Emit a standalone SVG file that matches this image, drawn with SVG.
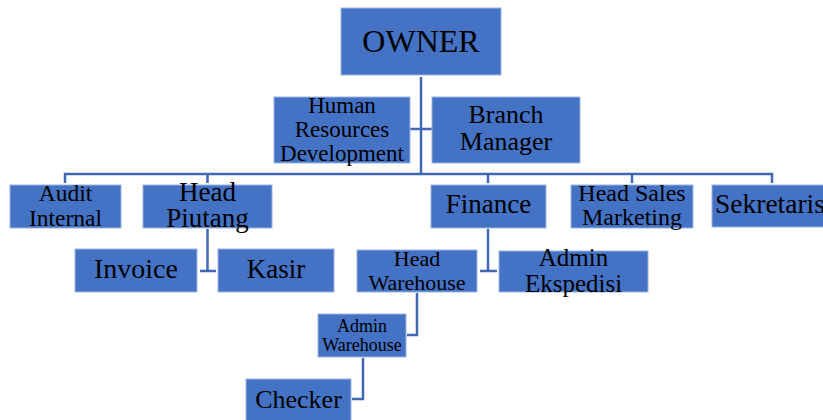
<svg xmlns="http://www.w3.org/2000/svg" width="823" height="420" viewBox="0 0 823 420">
  <style>
    .box { fill: #4472C4; stroke: #9DB4E0; stroke-width: 1; }
    .lbl { font-family: "Liberation Serif", "Times New Roman", serif; fill: #000; text-anchor: middle; }
    .ln { fill: none; stroke: #4068B4; stroke-width: 2.5; }
  </style>
  <rect width="823" height="420" fill="#ffffff"/>

  <!-- connectors -->
  <g id="connectors">
    <path class="ln" d="M421 77 V174"/>
    <path class="ln" d="M410 129 H432"/>
    <path class="ln" d="M65 183 V174 H772 V183"/>
    <path class="ln" d="M207.5 174 V183"/>
    <path class="ln" d="M488 174 V183"/>
    <path class="ln" d="M632 174 V183"/>
    <path class="ln" d="M207.5 229 V271 M200 271 H216"/>
    <path class="ln" d="M488 229 V271 M480 271 H497"/>
    <path class="ln" d="M417 293 V335 H407"/>
    <path class="ln" d="M363 358 V399 H352"/>
  </g>

  <g id="owner">
    <rect class="box" x="341" y="8" width="160" height="67"/>
    <text class="lbl" x="421" y="52" font-size="32">OWNER</text>
  </g>

  <g id="hrd">
    <rect class="box" x="274" y="97" width="136" height="66"/>
    <text class="lbl" x="342" y="113" font-size="23">Human</text>
    <text class="lbl" x="342" y="137" font-size="23">Resources</text>
    <text class="lbl" x="342" y="161" font-size="23">Development</text>
  </g>

  <g id="branch-manager">
    <rect class="box" x="432" y="97" width="148" height="66"/>
    <text class="lbl" x="506" y="123" font-size="26">Branch</text>
    <text class="lbl" x="506" y="150" font-size="26">Manager</text>
  </g>

  <g id="audit-internal">
    <rect class="box" x="10" y="185" width="111" height="43"/>
    <text class="lbl" x="65.5" y="201" font-size="23.5">Audit</text>
    <text class="lbl" x="65.5" y="226" font-size="23.5">Internal</text>
  </g>

  <g id="head-piutang">
    <rect class="box" x="143" y="185" width="129" height="43"/>
    <text class="lbl" x="207.5" y="201" font-size="27">Head</text>
    <text class="lbl" x="207.5" y="227" font-size="27">Piutang</text>
  </g>

  <g id="finance">
    <rect class="box" x="431" y="185" width="115" height="43"/>
    <text class="lbl" x="488.5" y="213" font-size="27">Finance</text>
  </g>

  <g id="head-sales-marketing">
    <rect class="box" x="571" y="185" width="122" height="43"/>
    <text class="lbl" x="632" y="201" font-size="24">Head Sales</text>
    <text class="lbl" x="632" y="225" font-size="24">Marketing</text>
  </g>

  <g id="sekretaris">
    <rect class="box" x="712" y="185" width="120" height="42"/>
    <text class="lbl" x="715" y="213" font-size="27.5" style="text-anchor:start">Sekretaris</text>
  </g>

  <g id="invoice">
    <rect class="box" x="75" y="249" width="122" height="43"/>
    <text class="lbl" x="136" y="278" font-size="28">Invoice</text>
  </g>

  <g id="kasir">
    <rect class="box" x="218" y="249" width="116" height="43"/>
    <text class="lbl" x="276" y="278" font-size="27">Kasir</text>
  </g>

  <g id="head-warehouse">
    <rect class="box" x="357" y="250" width="120" height="42"/>
    <text class="lbl" x="417" y="266" font-size="22">Head</text>
    <text class="lbl" x="417" y="290" font-size="22">Warehouse</text>
  </g>

  <g id="admin-ekspedisi">
    <rect class="box" x="499" y="251" width="149" height="41"/>
    <text class="lbl" x="573.5" y="266" font-size="25">Admin</text>
    <text class="lbl" x="573.5" y="292" font-size="25">Ekspedisi</text>
  </g>

  <g id="admin-warehouse">
    <rect class="box" x="318" y="314" width="88" height="43"/>
    <text class="lbl" x="362" y="332" font-size="18">Admin</text>
    <text class="lbl" x="362" y="351" font-size="18">Warehouse</text>
  </g>

  <g id="checker">
    <rect class="box" x="246" y="379" width="105" height="42"/>
    <text class="lbl" x="298.5" y="408" font-size="26">Checker</text>
  </g>
</svg>
